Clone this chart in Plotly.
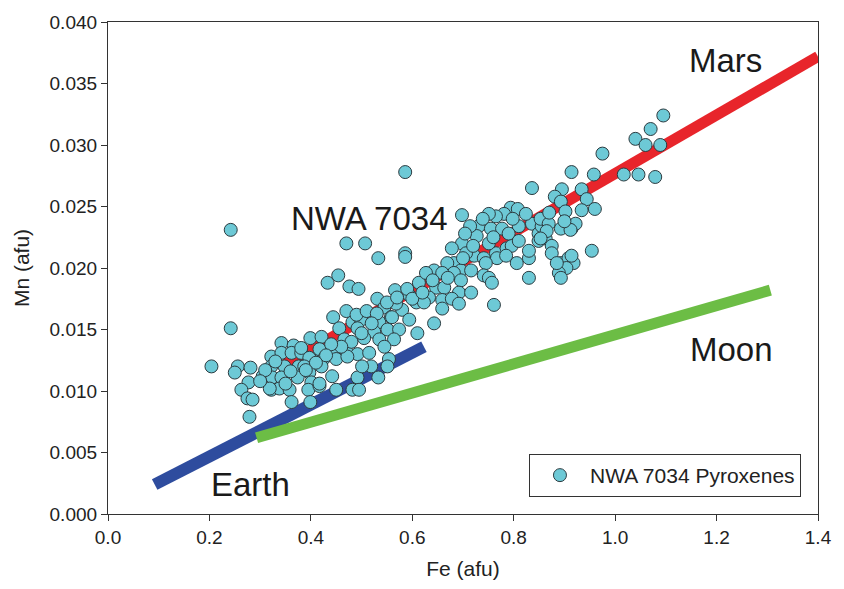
import plotly.graph_objects as go

# NWA 7034 pyroxene analyses (Fe, Mn in afu)
fe = [0.204, 0.242, 0.242, 0.586, 0.698, 0.470, 0.507, 0.533, 0.586, 0.586,
      0.433, 0.454, 0.476, 0.494, 0.531, 0.342, 0.366, 0.399, 0.421, 0.322,
      0.342, 0.362, 0.381, 0.401, 0.421, 0.256, 0.250, 0.281, 0.322, 0.348,
      0.376, 0.397, 0.305, 0.324, 0.342, 0.374, 0.401, 0.277, 0.263, 0.322,
      0.338, 0.358, 0.395, 0.417, 0.275, 0.285, 0.362, 0.399, 0.279, 0.319,
      0.444, 0.492, 0.533, 0.450, 0.482, 0.495, 0.610, 0.554, 0.551, 0.519,
      0.501, 0.566, 0.594, 0.613, 0.545, 0.580, 0.568, 0.608, 0.482, 0.499,
      0.535, 0.558, 0.594, 0.456, 0.492, 0.525, 0.551, 0.574, 0.466, 0.505,
      0.535, 0.564, 0.417, 0.442, 0.470, 0.492, 0.515, 0.545, 0.381, 0.397,
      0.427, 0.450, 0.472, 0.387, 0.421, 0.442, 0.417,
      0.731, 0.755, 0.777, 0.810, 0.727, 0.836, 0.849, 0.765, 0.786, 0.796,
      0.751, 0.698, 0.678, 0.722, 0.741, 0.706, 0.767, 0.785, 0.806, 0.830,
      0.682, 0.669, 0.745, 0.696, 0.716, 0.682, 0.643, 0.627, 0.659, 0.741,
      0.751, 0.830, 0.757, 0.696, 0.647, 0.663, 0.692, 0.716, 0.633, 0.659,
      0.678, 0.623, 0.659, 0.692, 0.761, 0.643, 0.830, 0.849, 0.855, 0.893,
      0.914, 0.922, 0.863, 0.875, 0.875, 0.893, 0.908, 0.918, 0.904, 0.889,
      0.893, 0.954, 0.914, 0.958, 1.017, 1.046, 1.079, 0.895, 0.881, 0.893,
      0.934, 0.944, 0.902, 0.934, 0.960, 0.853, 0.869, 0.912, 0.865, 0.853,
      0.914, 0.885, 1.095, 1.070, 1.040, 1.060, 1.089, 0.975, 0.836, 0.794,
      0.808, 0.781, 0.765, 0.751, 0.739, 0.798, 0.714, 0.704, 0.824,
      0.470, 0.490, 0.510, 0.530, 0.550, 0.570, 0.590, 0.600, 0.560, 0.520,
      0.500, 0.480, 0.460, 0.440, 0.430, 0.410, 0.390, 0.360, 0.330, 0.310,
      0.300, 0.350, 0.620, 0.640, 0.670, 0.700, 0.720, 0.760, 0.790, 0.810,
      0.870, 0.900]
mn = [0.0120, 0.0231, 0.0151, 0.0278, 0.0243, 0.0220, 0.0220, 0.0208, 0.0212, 0.0209,
      0.0188, 0.0194, 0.0185, 0.0183, 0.0175, 0.0139, 0.0137, 0.0143, 0.0144, 0.0128,
      0.0131, 0.0131, 0.0131, 0.0126, 0.0131, 0.0120, 0.0115, 0.0119, 0.0120, 0.0120,
      0.0120, 0.0115, 0.0112, 0.0111, 0.0111, 0.0111, 0.0107, 0.0107, 0.0101, 0.0101,
      0.0102, 0.0101, 0.0101, 0.0104, 0.0094, 0.0093, 0.0091, 0.0091, 0.0079, 0.0102,
      0.0160, 0.0111, 0.0111, 0.0101, 0.0101, 0.0101, 0.0147, 0.0126, 0.0120, 0.0120,
      0.0120, 0.0182, 0.0178, 0.0188, 0.0168, 0.0166, 0.0171, 0.0172, 0.0156, 0.0158,
      0.0156, 0.0160, 0.0158, 0.0151, 0.0151, 0.0148, 0.0150, 0.0150, 0.0142, 0.0143,
      0.0142, 0.0142, 0.0134, 0.0132, 0.0132, 0.0130, 0.0131, 0.0136, 0.0135, 0.0127,
      0.0127, 0.0126, 0.0128, 0.0120, 0.0120, 0.0112, 0.0106,
      0.0234, 0.0232, 0.0232, 0.0234, 0.0226, 0.0236, 0.0228, 0.0212, 0.0216, 0.0218,
      0.0220, 0.0220, 0.0216, 0.0210, 0.0208, 0.0212, 0.0208, 0.0210, 0.0204, 0.0208,
      0.0204, 0.0204, 0.0204, 0.0198, 0.0198, 0.0196, 0.0198, 0.0196, 0.0196, 0.0194,
      0.0192, 0.0192, 0.0188, 0.0190, 0.0184, 0.0184, 0.0180, 0.0180, 0.0176, 0.0174,
      0.0175, 0.0172, 0.0167, 0.0171, 0.0170, 0.0155, 0.0214, 0.0222, 0.0234, 0.0232,
      0.0232, 0.0236, 0.0224, 0.0218, 0.0212, 0.0204, 0.0208, 0.0204, 0.0200, 0.0196,
      0.0192, 0.0214, 0.0278, 0.0276, 0.0276, 0.0276, 0.0274, 0.0264, 0.0258, 0.0254,
      0.0264, 0.0256, 0.0246, 0.0247, 0.0248, 0.0240, 0.0236, 0.0231, 0.0230, 0.0224,
      0.0210, 0.0204, 0.0324, 0.0313, 0.0305, 0.0300, 0.0300, 0.0293, 0.0265, 0.0249,
      0.0248, 0.0244, 0.0242, 0.0244, 0.0240, 0.0240, 0.0234, 0.0228, 0.0244,
      0.0165, 0.0162, 0.0165, 0.0163, 0.0172, 0.0176, 0.0183, 0.0175, 0.0160, 0.0155,
      0.0147, 0.0140, 0.0136, 0.0138, 0.0129, 0.0123, 0.0117, 0.0116, 0.0124, 0.0117,
      0.0108, 0.0106, 0.0180, 0.0190, 0.0192, 0.0208, 0.0218, 0.0225, 0.0228, 0.0222,
      0.0245, 0.0238]

# Planetary Fe/Mn trend lines (end points)
earth_fe = [0.092, 0.623]
earth_mn = [0.0024, 0.0136]
moon_fe = [0.293, 1.306]
moon_mn = [0.0062, 0.0182]
mars_fe = [0.35, 1.40]
mars_mn = [0.0122, 0.0372]

# Labels
labels = ["Mars", "NWA 7034", "Moon", "Earth"]
label_fe = [1.217, 0.515, 1.229, 0.281]
label_mn = [0.0369, 0.0240, 0.0134, 0.0024]

FONT = "Liberation Sans, Arial, Helvetica, sans-serif"

fig = go.Figure()
fig.add_trace(go.Scatter(x=earth_fe, y=earth_mn, mode="lines",
                         line=dict(color="#2E4C9E", width=12), showlegend=False, hoverinfo="skip"))
fig.add_trace(go.Scatter(x=moon_fe, y=moon_mn, mode="lines",
                         line=dict(color="#6CBD45", width=11), showlegend=False, hoverinfo="skip"))
fig.add_trace(go.Scatter(x=mars_fe, y=mars_mn, mode="lines",
                         line=dict(color="#E8252B", width=11), showlegend=False, hoverinfo="skip"))
fig.add_trace(go.Scatter(x=fe, y=mn, mode="markers", name="NWA 7034 Pyroxenes",
                         marker=dict(size=13, color="#6DC9D6",
                                     line=dict(color="#2C3B40", width=1))))

for t, x, y in zip(labels, label_fe, label_mn):
    fig.add_annotation(x=x, y=y, text=t, showarrow=False,
                       font=dict(family=FONT, size=33, color="#1a1a1a"))

axis_common = dict(showline=True, linecolor="#333333", linewidth=1.2, mirror=True,
                   showgrid=False, zeroline=False, ticks="outside", ticklen=6,
                   tickcolor="#333333", tickfont=dict(family=FONT, size=19, color="#222222"))

fig.update_layout(
    width=844, height=589,
    margin=dict(l=108, r=25, t=18, b=72),
    paper_bgcolor="white", plot_bgcolor="white",
    xaxis=dict(range=[0, 1.4], dtick=0.2, tick0=0, tickformat=".1f",
               title=dict(text="Fe (afu)", font=dict(family=FONT, size=21, color="#222222"), standoff=14),
               **axis_common),
    yaxis=dict(range=[0, 0.04], dtick=0.005, tick0=0, tickformat=".3f",
               title=dict(text="Mn (afu)", font=dict(family=FONT, size=21, color="#222222"), standoff=14),
               **axis_common),
    legend=dict(x=0.976, xanchor="right", y=0.122, yanchor="top",
                bordercolor="#333333", borderwidth=1, bgcolor="white",
                itemwidth=50,
                font=dict(family=FONT, size=21, color="#222222")),
    showlegend=True,
)

fig.write_html("out.html")
